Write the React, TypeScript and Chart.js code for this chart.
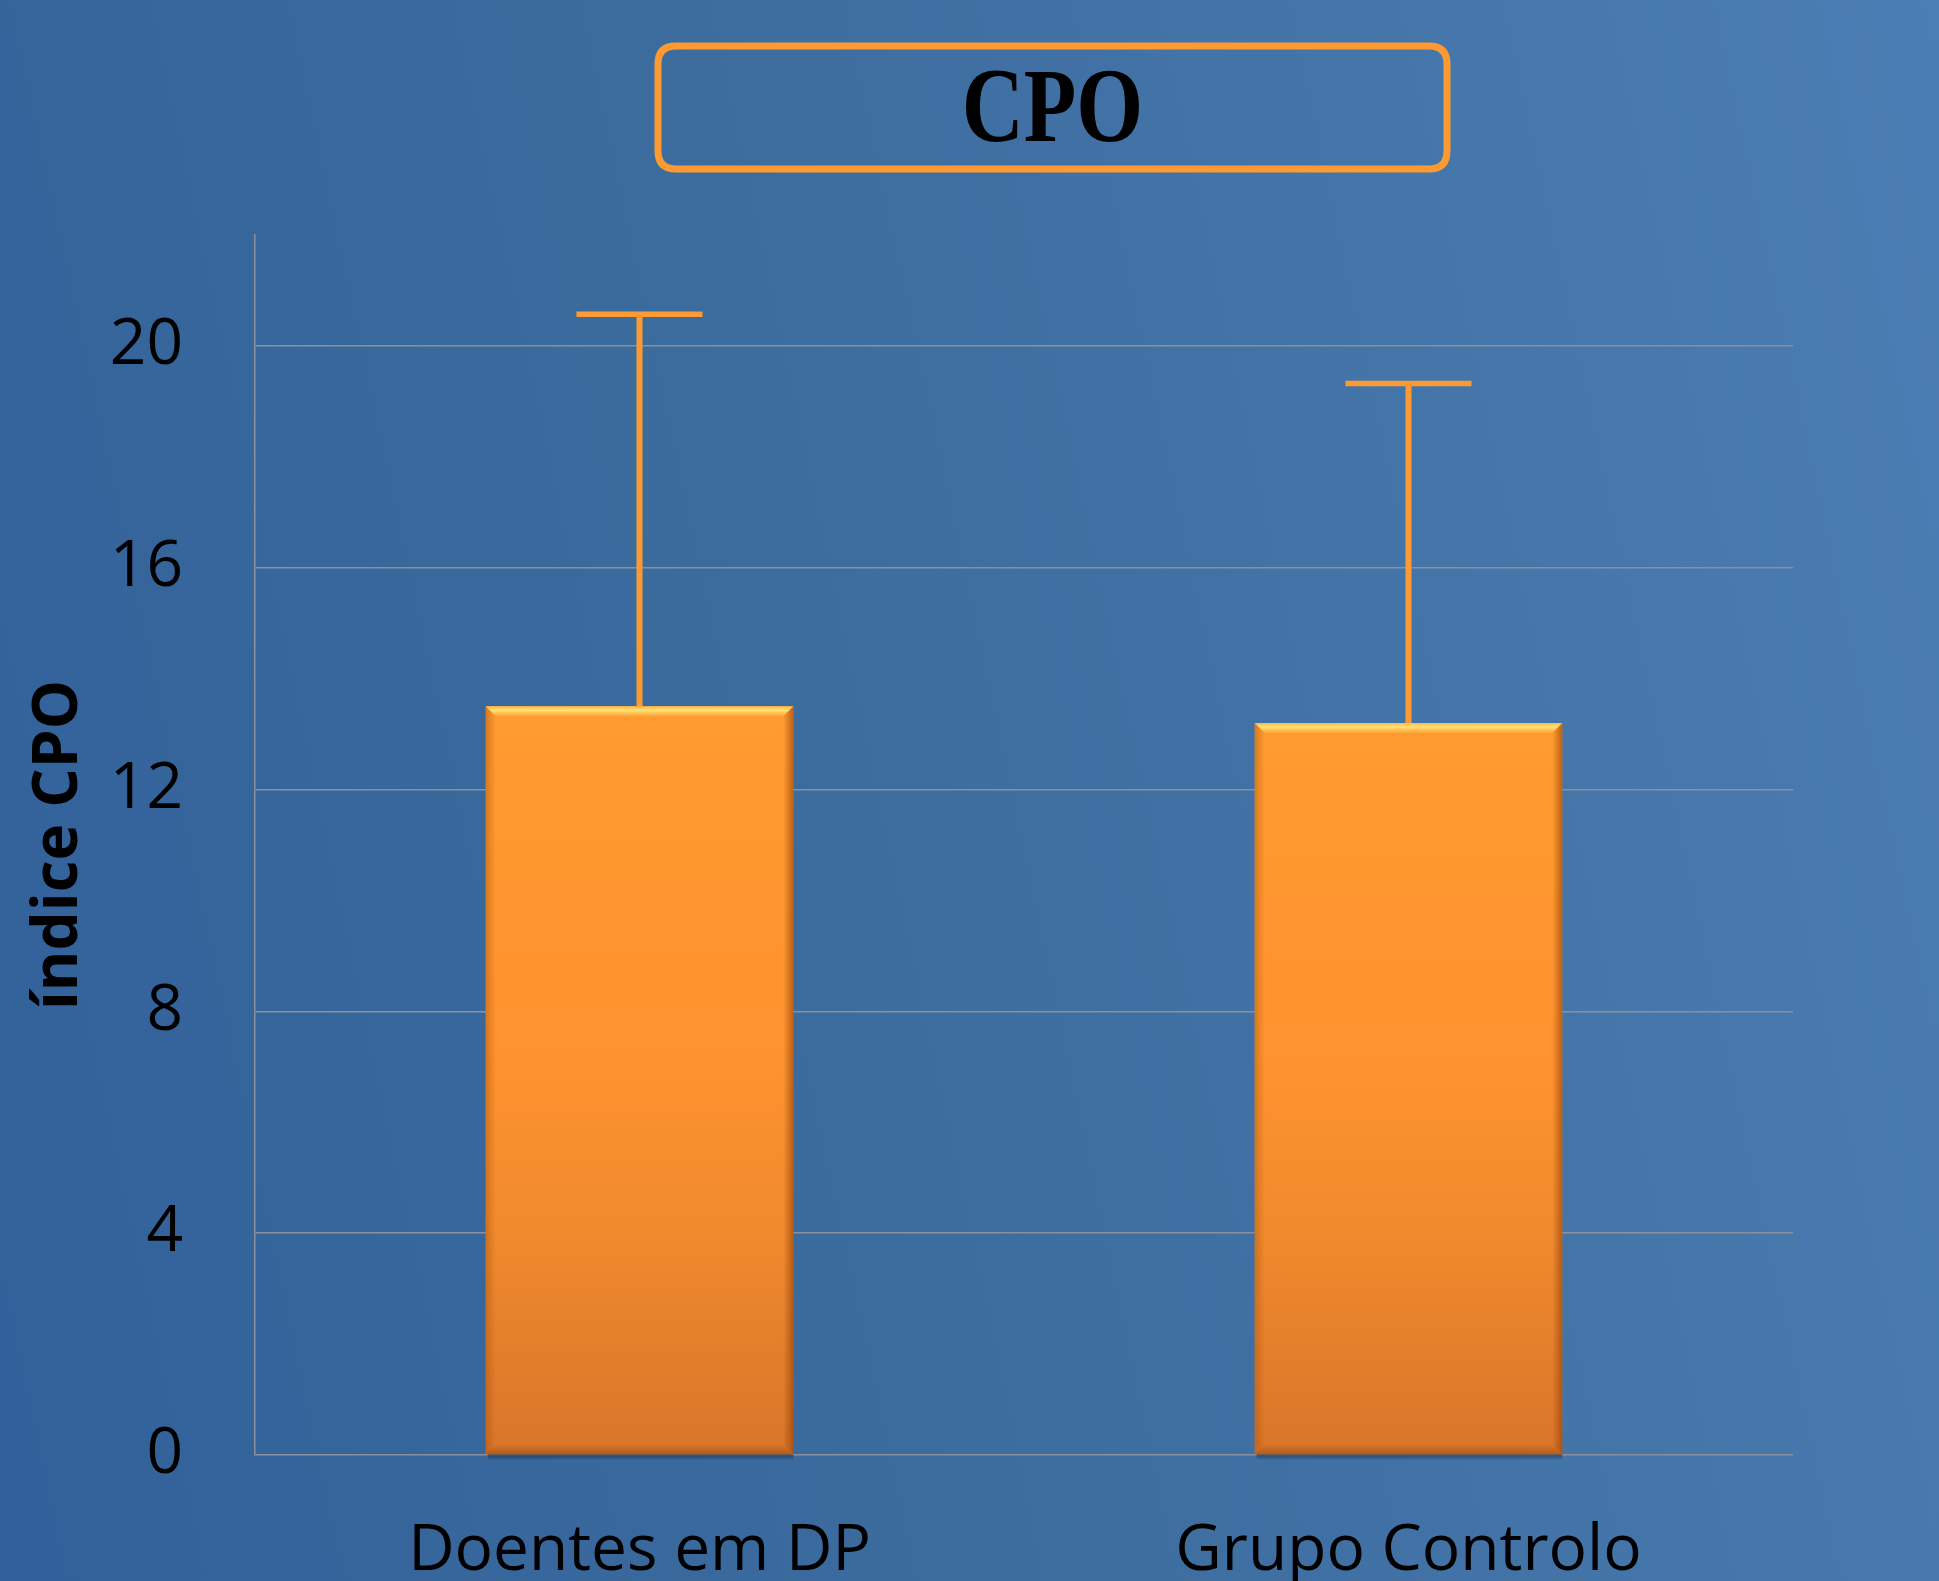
import React, { useEffect, useRef } from "react";
import { Chart, registerables } from "chart.js";

Chart.register(...registerables);

const categories = ["Doentes em DP", "Grupo Controlo"];
const meanValues = [13.5, 13.2];
const errorUpper = [20.57, 19.32];
const yTicks = [0, 4, 8, 12, 16, 20];
const titleText = "CPO";
const yAxisTitle = "índice CPO";

const W = 1939;
const H = 1640;

const titleBoxPlugin = {
  id: "titleBox",
  afterDraw(chart: any) {
    const ctx = chart.ctx;
    ctx.save();
    const x0 = 658, y0 = 46, x1 = 1447, y1 = 169, r = 18;
    ctx.beginPath();
    ctx.moveTo(x0 + r, y0);
    ctx.lineTo(x1 - r, y0);
    ctx.quadraticCurveTo(x1, y0, x1, y0 + r);
    ctx.lineTo(x1, y1 - r);
    ctx.quadraticCurveTo(x1, y1, x1 - r, y1);
    ctx.lineTo(x0 + r, y1);
    ctx.quadraticCurveTo(x0, y1, x0, y1 - r);
    ctx.lineTo(x0, y0 + r);
    ctx.quadraticCurveTo(x0, y0, x0 + r, y0);
    ctx.closePath();
    ctx.lineWidth = 7;
    ctx.strokeStyle = "#ff9a33";
    ctx.stroke();
    ctx.fillStyle = "#000";
    ctx.font = "bold 86px 'Liberation Serif', 'Times New Roman', serif";
    ctx.textAlign = "center";
    ctx.textBaseline = "middle";
    ctx.translate((x0 + x1) / 2, (y0 + y1) / 2 + 6);
    ctx.scale(1, 1.22);
    ctx.fillText(titleText, 0, 0);
    ctx.restore();
  },
};

const bevelPlugin = {
  id: "bevel",
  afterDatasetsDraw(chart: any) {
    const ctx = chart.ctx;
    const meta = chart.getDatasetMeta(0);
    ctx.save();
    meta.data.forEach((bar: any) => {
      const { x, y, width, base } = bar.getProps(["x", "y", "width", "base"], true);
      const l = x - width / 2;
      const r = x + width / 2;
      const b = 10;
      const sh = ctx.createLinearGradient(0, base, 0, base + 6);
      sh.addColorStop(0, "rgba(20,30,50,0.55)");
      sh.addColorStop(1, "rgba(20,30,50,0)");
      ctx.fillStyle = sh;
      ctx.fillRect(l + 2, base, width - 2, 6);
      const tg = ctx.createLinearGradient(0, y, 0, y + b);
      tg.addColorStop(0, "#ffb84a");
      tg.addColorStop(0.4, "#ffe272");
      tg.addColorStop(1, "#ffa136");
      ctx.fillStyle = tg;
      ctx.beginPath();
      ctx.moveTo(l, y);
      ctx.lineTo(r, y);
      ctx.lineTo(r - b, y + b);
      ctx.lineTo(l + b, y + b);
      ctx.closePath();
      ctx.fill();
      const lg = ctx.createLinearGradient(l, 0, l + b, 0);
      lg.addColorStop(0, "rgba(170,80,10,0.45)");
      lg.addColorStop(1, "rgba(170,80,10,0)");
      ctx.fillStyle = lg;
      ctx.beginPath();
      ctx.moveTo(l, y);
      ctx.lineTo(l + b, y + b);
      ctx.lineTo(l + b, base - b);
      ctx.lineTo(l, base);
      ctx.closePath();
      ctx.fill();
      const rg = ctx.createLinearGradient(r - b, 0, r, 0);
      rg.addColorStop(0, "rgba(140,60,5,0)");
      rg.addColorStop(1, "rgba(140,60,5,0.6)");
      ctx.fillStyle = rg;
      ctx.beginPath();
      ctx.moveTo(r, y);
      ctx.lineTo(r - b, y + b);
      ctx.lineTo(r - b, base - b);
      ctx.lineTo(r, base);
      ctx.closePath();
      ctx.fill();
      const bg = ctx.createLinearGradient(0, base - b, 0, base);
      bg.addColorStop(0, "rgba(140,60,5,0)");
      bg.addColorStop(1, "rgba(140,60,5,0.45)");
      ctx.fillStyle = bg;
      ctx.beginPath();
      ctx.moveTo(l, base);
      ctx.lineTo(l + b, base - b);
      ctx.lineTo(r - b, base - b);
      ctx.lineTo(r, base);
      ctx.closePath();
      ctx.fill();
    });
    ctx.restore();
  },
};

const errorBarPlugin = {
  id: "errorBars",
  afterDatasetsDraw(chart: any) {
    const ctx = chart.ctx;
    const meta = chart.getDatasetMeta(0);
    const yScale = chart.scales.y;
    ctx.save();
    ctx.strokeStyle = "#ff9a33";
    meta.data.forEach((bar: any, i: number) => {
      const { x, y } = bar.getProps(["x", "y"], true);
      const top = yScale.getPixelForValue(errorUpper[i]);
      ctx.lineWidth = 6;
      ctx.beginPath();
      ctx.moveTo(x, y);
      ctx.lineTo(x, top);
      ctx.stroke();
      ctx.lineWidth = 5.5;
      ctx.beginPath();
      ctx.moveTo(x - 63, top);
      ctx.lineTo(x + 63, top);
      ctx.stroke();
    });
    ctx.restore();
  },
};

export default function App() {
  const ref = useRef<HTMLCanvasElement>(null);

  useEffect(() => {
    if (!ref.current) return;
    const chart = new Chart(ref.current, {
      type: "bar",
      data: {
        labels: categories,
        datasets: [
          {
            data: meanValues,
            backgroundColor: (context: any) => {
              const c = context.chart;
              const area = c.chartArea;
              if (!area) return "#ff9a30";
              const ys = c.scales.y;
              const v = meanValues[context.dataIndex] ?? meanValues[0];
              const top = ys.getPixelForValue(v);
              const bottom = ys.getPixelForValue(0);
              const g = c.ctx.createLinearGradient(0, top, 0, bottom);
              g.addColorStop(0, "#ff9b30");
              g.addColorStop(0.45, "#ff932f");
              g.addColorStop(0.7, "#f08a2d");
              g.addColorStop(1, "#d8752a");
              return g;
            },
            borderWidth: 0,
            barPercentage: 0.4,
            categoryPercentage: 1.0,
          },
        ],
      },
      options: {
        responsive: false,
        animation: false,
        layout: { padding: { top: 235, right: 146, left: 0, bottom: 0 } },
        plugins: {
          legend: { display: false },
          title: { display: false },
          tooltip: { enabled: false },
        },
        scales: {
          x: {
            grid: { display: false, drawTicks: false },
            border: { display: false },
            ticks: {
              color: "#000",
              padding: 58,
              font: { family: "'Open Sans', sans-serif", size: 64 },
            },
            afterFit: (scale: any) => {
              scale.height = H - 1455;
            },
          },
          y: {
            min: 0,
            max: 22,
            afterBuildTicks: (scale: any) => {
              scale.ticks = yTicks.map((v) => ({ value: v }));
            },
            grid: {
              color: "#8c9097",
              lineWidth: 1.5,
              drawTicks: false,
              tickLength: 0,
            },
            border: { display: true, color: "#8c9097", width: 1.5 },
            ticks: {
              color: "#000",
              padding: 72,
              font: { family: "'Open Sans', sans-serif", size: 64 },
            },
            title: {
              display: true,
              text: yAxisTitle,
              color: "#000",
              padding: { top: 22, bottom: 0 },
              font: { family: "'Open Sans', sans-serif", size: 62, weight: "bold" },
            },
            afterFit: (scale: any) => {
              scale.width = 255;
            },
          },
        },
      },
      plugins: [bevelPlugin, errorBarPlugin, titleBoxPlugin],
    });
    return () => chart.destroy();
  }, []);

  return (
    <div
      style={{
        position: "absolute",
        top: 0,
        left: 0,
        width: W,
        height: 1581,
        overflow: "hidden",
        background: "linear-gradient(78deg, #31619a 0%, #3d6c9e 45%, #4b7eb4 100%)",
      }}
    >
      <canvas ref={ref} width={W} height={H} style={{ width: W, height: H, display: "block" }} />
    </div>
  );
}
